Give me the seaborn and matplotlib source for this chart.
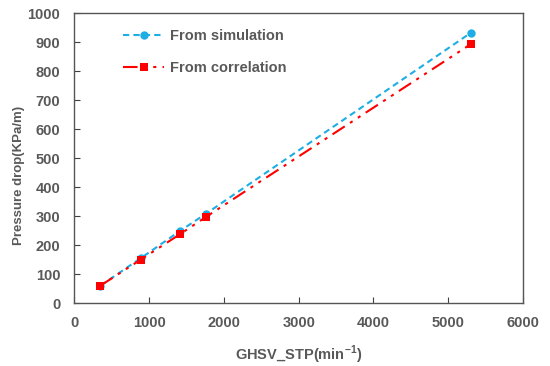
import pandas as pd
import matplotlib.pyplot as plt
import seaborn as sns

# Data
ghsv = [350, 890, 1410, 1760, 5300]
dp_simulation = [60, 155, 248, 308, 932]
dp_correlation = [60, 150, 237, 297, 893]

x_ticks = [0, 1000, 2000, 3000, 4000, 5000, 6000]
y_ticks = [0, 100, 200, 300, 400, 500, 600, 700, 800, 900, 1000]

TEXT = "#595959"
FONT = 'Liberation Sans'

sns.set_style("white")
plt.rcParams['font.family'] = [FONT, 'DejaVu Sans']
plt.rcParams['font.weight'] = 'bold'
plt.rcParams['mathtext.fontset'] = 'custom'
plt.rcParams['mathtext.rm'] = FONT + ':bold'
plt.rcParams['mathtext.bf'] = FONT + ':bold'

df_sim = pd.DataFrame({'ghsv': ghsv, 'dp': dp_simulation})
df_cor = pd.DataFrame({'ghsv': ghsv, 'dp': dp_correlation})

fig = plt.figure(figsize=(5.5, 3.66), dpi=100)
ax = fig.add_axes([0.135, 0.172, 0.816, 0.792])

sns.lineplot(data=df_sim, x='ghsv', y='dp', ax=ax, color='#1CAEE4',
             linestyle=(0, (3, 2)), linewidth=1.5, marker='o', markersize=6,
             markeredgewidth=0, label='From simulation')
sns.lineplot(data=df_cor, x='ghsv', y='dp', ax=ax, color='#FF0000',
             linestyle=(0, (7, 3, 1.5, 3, 1.5, 3)), linewidth=1.5, marker='s',
             markersize=6, markeredgewidth=0, label='From correlation')

ax.set_xlim(0, 6000)
ax.set_ylim(0, 1000)
ax.tick_params(direction='in', length=4, width=0.8, color='#404040',
               labelcolor=TEXT, bottom=True, left=True)
ax.set_xticks(x_ticks, labels=[str(v) for v in x_ticks],
              fontsize=10.5, fontweight='bold')
ax.set_yticks(y_ticks, labels=[str(v) for v in y_ticks],
              fontsize=10.5, fontweight='bold')
ax.tick_params(axis='y', pad=10)
ax.tick_params(axis='x', pad=9)

for sp in ax.spines.values():
    sp.set_color('#555555')
    sp.set_linewidth(1.0)

ax.set_xlabel('GHSV_STP(min$^{-1}$)', fontsize=10.5, color=TEXT,
              fontweight='bold', labelpad=10)
ax.set_ylabel('Pressure drop(KPa/m)', fontsize=9.5, color=TEXT,
              fontweight='bold')
ax.yaxis.set_label_coords(-0.11, 0.44)

leg = ax.legend(loc='upper left', bbox_to_anchor=(0.08, 0.99), frameon=False,
                fontsize=10.5, labelspacing=1.2, handlelength=2.8,
                handletextpad=0.4)
for t in leg.get_texts():
    t.set_color(TEXT)
    t.set_fontweight('bold')

fig.savefig('out.png', dpi=100)
